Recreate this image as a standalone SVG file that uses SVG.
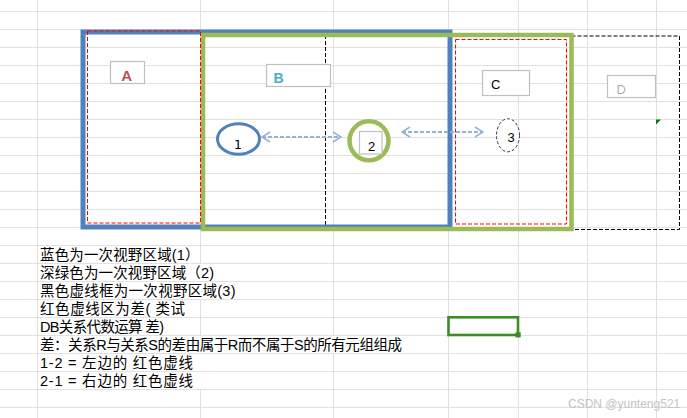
<svg xmlns="http://www.w3.org/2000/svg" width="687" height="418" viewBox="0 0 687 418">
<style>
.grid line{stroke:#e1e1e1;stroke-width:1}
.txt{font-family:"Liberation Sans","Noto Sans CJK SC",sans-serif;font-size:14.5px;fill:#000}
.lbl{font-family:"Liberation Sans",Arial,sans-serif}
.box{fill:#fff;stroke:#bfbfbf;stroke-width:1.2}
.red{fill:none;stroke:#ff0000;stroke-width:1;stroke-dasharray:4 2}
.blk{fill:none;stroke:#000;stroke-width:1;stroke-dasharray:4 2}
.arr{stroke:#95b3d7;stroke-width:2;stroke-dasharray:4 2;fill:none}
</style>
<defs>
<marker id="ah" viewBox="0 0 10 12" refX="9" refY="6" markerWidth="10" markerHeight="12" markerUnits="userSpaceOnUse" orient="auto-start-reverse">
<path d="M1,1 L9,6 L1,11" fill="none" stroke="#95b3d7" stroke-width="1.5"/>
</marker>
</defs>
<rect width="687" height="418" fill="#fff"/>
<g class="grid">
<line x1="0" y1="11.5" x2="687" y2="11.5"/>
<line x1="0" y1="29.5" x2="687" y2="29.5"/>
<line x1="0" y1="47.5" x2="687" y2="47.5"/>
<line x1="0" y1="65.5" x2="687" y2="65.5"/>
<line x1="0" y1="83.5" x2="687" y2="83.5"/>
<line x1="0" y1="101.5" x2="687" y2="101.5"/>
<line x1="0" y1="119.5" x2="687" y2="119.5"/>
<line x1="0" y1="137.5" x2="687" y2="137.5"/>
<line x1="0" y1="155.5" x2="687" y2="155.5"/>
<line x1="0" y1="173.5" x2="687" y2="173.5"/>
<line x1="0" y1="191.5" x2="687" y2="191.5"/>
<line x1="0" y1="209.5" x2="687" y2="209.5"/>
<line x1="0" y1="227.5" x2="687" y2="227.5"/>
<line x1="0" y1="245.5" x2="687" y2="245.5"/>
<line x1="0" y1="263.5" x2="687" y2="263.5"/>
<line x1="0" y1="281.5" x2="687" y2="281.5"/>
<line x1="0" y1="299.5" x2="687" y2="299.5"/>
<line x1="0" y1="317.5" x2="687" y2="317.5"/>
<line x1="0" y1="335.5" x2="687" y2="335.5"/>
<line x1="0" y1="353.5" x2="687" y2="353.5"/>
<line x1="0" y1="371.5" x2="687" y2="371.5"/>
<line x1="0" y1="389.5" x2="687" y2="389.5"/>
<line x1="0" y1="407.5" x2="687" y2="407.5"/>
<line x1="37.5" y1="0" x2="37.5" y2="418"/>
<line x1="200.5" y1="0" x2="200.5" y2="263.5"/>
<line x1="200.5" y1="299.5" x2="200.5" y2="335.5"/>
<line x1="200.5" y1="389.5" x2="200.5" y2="418"/>
<line x1="333.5" y1="0" x2="333.5" y2="335.5"/>
<line x1="333.5" y1="353.5" x2="333.5" y2="418"/>
<line x1="448.5" y1="0" x2="448.5" y2="418"/>
<line x1="518.5" y1="0" x2="518.5" y2="418"/>
<line x1="587.5" y1="0" x2="587.5" y2="418"/>
<line x1="656.5" y1="0" x2="656.5" y2="418"/>
</g>
<g id="region-black">
<rect class="blk" x="325.5" y="36" width="354" height="193.5"/>
</g>
<g id="region-blue">
<rect x="83" y="32" width="367" height="195" fill="none" stroke="#4f81bd" stroke-width="5"/>
</g>
<g id="region-green">
<rect x="203" y="35" width="368.5" height="194" fill="none" stroke="#9bbb59" stroke-width="4.5"/>
</g>
<g id="diff-left">
<rect class="red" x="87.5" y="31" width="113" height="192"/>
</g>
<g id="diff-right">
<rect class="red" x="455.5" y="39.5" width="111" height="184.5"/>
</g>
<g id="label-A">
<rect class="box" x="110.5" y="61.5" width="34" height="22"/>
<text class="lbl" x="126.7" y="80.7" font-size="15" font-weight="bold" fill="#c0504d" text-anchor="middle">A</text>
</g>
<g id="label-B">
<rect class="box" x="266.5" y="64.5" width="64" height="22"/>
<text class="lbl" x="273.5" y="83.3" font-size="14" font-weight="bold" fill="#4bacc6">B</text>
</g>
<g id="label-C">
<rect class="box" x="482.5" y="70.5" width="47" height="25"/>
<text class="lbl" x="491" y="89" font-size="13" fill="#000">C</text>
</g>
<g id="label-D">
<rect class="box" x="607.5" y="75.5" width="48" height="22"/>
<text class="lbl" x="616.5" y="94" font-size="13" fill="#b0b0b0">D</text>
</g>
<g id="marker-green">
<path d="M656,119.5 L661,119.5 L656,124.5 Z" fill="#008000"/>
</g>
<g id="node-1">
<ellipse cx="238.5" cy="139" rx="21" ry="15.3" fill="#fff" stroke="#4f81bd" stroke-width="3"/>
<text x="238" y="149" font-family="'DejaVu Sans',sans-serif" font-size="12.5" text-anchor="middle" fill="#000">1</text>
</g>
<g id="node-2">
<circle cx="369" cy="140.8" r="19.5" fill="#fff" stroke="#9bbb59" stroke-width="4.5"/>
<rect class="box" x="359.5" y="131.5" width="22.5" height="22.5"/>
<text class="lbl" x="371.5" y="151" font-size="13" text-anchor="middle" fill="#000">2</text>
</g>
<g id="node-3">
<ellipse cx="508" cy="135.3" rx="11.5" ry="16.5" fill="#fff" stroke="#333" stroke-width="1" stroke-dasharray="3 2"/>
<text class="lbl" x="511" y="142.3" font-size="13" text-anchor="middle" fill="#000">3</text>
</g>
<g id="connectors">
<line class="arr" x1="262" y1="137" x2="341" y2="137" marker-start="url(#ah)" marker-end="url(#ah)"/>
<line class="arr" x1="402" y1="132" x2="483" y2="132" marker-start="url(#ah)" marker-end="url(#ah)"/>
</g>
<g id="notes" class="txt">
<text x="40" y="259.5" textLength="159.5" lengthAdjust="spacing">蓝色为一次视野区域(1）</text>
<text x="40" y="277.5" textLength="174" lengthAdjust="spacing">深绿色为一次视野区域（2)</text>
<text x="40" y="295.5" textLength="195.5" lengthAdjust="spacing">黑色虚线框为一次视野区域(3)</text>
<text x="40" y="313.5" textLength="145" lengthAdjust="spacing">红色虚线区为差( 类试</text>
<text x="40" y="331.5" textLength="124" lengthAdjust="spacing">DB关系代数运算 差)</text>
<text x="40" y="349.5" textLength="362" lengthAdjust="spacing">差：关系R与关系S的差由属于R而不属于S的所有元组组成</text>
<text x="40" y="367.5" textLength="153" lengthAdjust="spacing" xml:space="preserve">1-2 = 左边的 红色虚线</text>
<text x="40" y="385.5" textLength="153" lengthAdjust="spacing" xml:space="preserve">2-1 = 右边的 红色虚线</text>
</g>
<g id="selection">
<rect x="448.5" y="317.3" width="69.5" height="17.7" fill="none" stroke="#3c8b23" stroke-width="2.6"/>
<rect x="515.5" y="332.3" width="5.2" height="5.2" fill="#3c8b23"/>
</g>
<text class="lbl" x="568" y="408" font-size="12" fill="#c4c4c4">CSDN @yunteng521</text>
</svg>
